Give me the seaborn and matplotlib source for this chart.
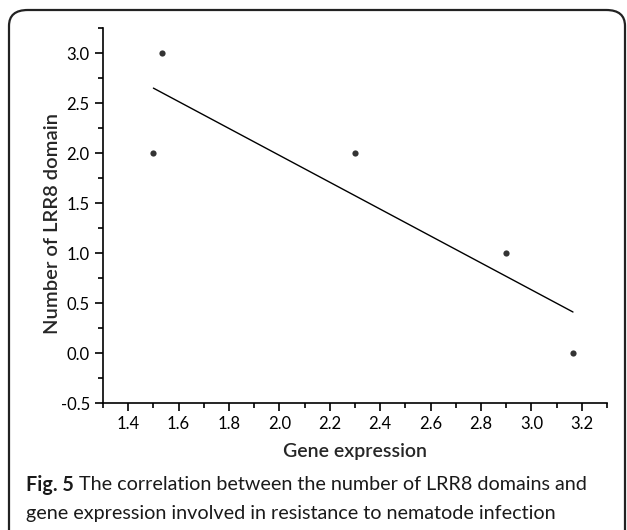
import matplotlib
matplotlib.use("Agg")
import matplotlib.pyplot as plt
import seaborn as sns
import pandas as pd
from matplotlib.patches import FancyBboxPatch
from matplotlib.ticker import MultipleLocator, FormatStrFormatter

# Values
gene_expression = [1.50, 1.535, 2.30, 2.90, 3.165]
lrr8_domains = [2, 3, 2, 1, 0]

x_ticks = [1.4, 1.6, 1.8, 2.0, 2.2, 2.4, 2.6, 2.8, 3.0, 3.2]
y_ticks = [-0.5, 0.0, 0.5, 1.0, 1.5, 2.0, 2.5, 3.0]

data = pd.DataFrame({"Gene expression": gene_expression,
                     "Number of LRR8 domain": lrr8_domains})

sns.set_style("ticks")
plt.rcParams['font.family'] = ['Lato', 'DejaVu Sans']
plt.rcParams['axes.unicode_minus'] = False

fig = plt.figure(figsize=(6.27, 5.30), dpi=100)
ax = fig.add_axes([103 / 627, 1 - 403 / 530, 504 / 627, 375 / 530])

# Scatter + least squares line
sns.regplot(x="Gene expression", y="Number of LRR8 domain", data=data, ax=ax,
            ci=None, truncate=True,
            scatter_kws={"s": 20, "color": "black", "linewidths": 0},
            line_kws={"color": "black", "linewidth": 1.0})

ax.set_xlim(1.3, 3.3)
ax.set_ylim(-0.5, 3.25)
ax.set_xticks(x_ticks)
ax.set_yticks(y_ticks)
ax.xaxis.set_minor_locator(MultipleLocator(0.1))
ax.yaxis.set_minor_locator(MultipleLocator(0.25))
ax.xaxis.set_major_formatter(FormatStrFormatter("%.1f"))
ax.yaxis.set_major_formatter(FormatStrFormatter("%.1f"))
ax.tick_params(which="major", length=6, width=1.2, labelsize=12, direction="out", colors="black")
ax.tick_params(which="minor", length=3.5, width=1.2, direction="out", colors="black")

sns.despine(ax=ax)
for side in ["left", "bottom"]:
    ax.spines[side].set_linewidth(1.2)
    ax.spines[side].set_color("black")

ax.set_xlabel("Gene expression", fontsize=14, fontweight="semibold", labelpad=8)
ax.set_ylabel("Number of LRR8 domain", fontsize=14.5, fontweight="semibold")
ax.yaxis.set_label_coords(-(103 - 61) / 504, 0.48)

# Rounded frame around the figure
frame = FancyBboxPatch((9 / 627, -0.05), 616 / 627, 1 - 10 / 530 + 0.05,
                       boxstyle="round,pad=0,rounding_size=0.03",
                       transform=fig.transFigure, fill=False,
                       edgecolor="#222222", linewidth=1.6, clip_on=False)
fig.patches.append(frame)

# Caption: bold "Fig. 5" then the rest
fig.canvas.draw()
renderer = fig.canvas.get_renderer()
t = fig.text(26 / 627, 1 - 485 / 530, "Fig. 5", fontsize=14.2, fontweight="bold",
             va="center", ha="left", color="#1a1a1a")
bb = t.get_window_extent(renderer=renderer)
fig.text(bb.x1 / fig.bbox.width + 5 / 627, 1 - 485 / 530,
         "The correlation between the number of LRR8 domains and",
         fontsize=14.2, va="center", ha="left", color="#1a1a1a")
fig.text(26 / 627, 1 - 513 / 530,
         "gene expression involved in resistance to nematode infection",
         fontsize=14.2, va="center", ha="left", color="#1a1a1a")

fig.savefig("out.png", dpi=100)
